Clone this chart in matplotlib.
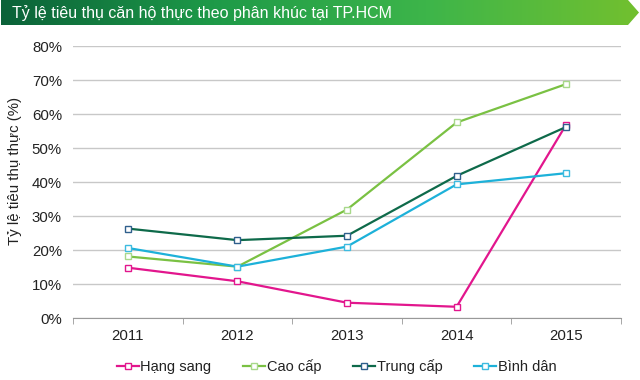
import numpy as np
import matplotlib
matplotlib.use("Agg")
import matplotlib.pyplot as plt
from matplotlib.patches import Polygon
from matplotlib.colors import LinearSegmentedColormap
from matplotlib.ticker import PercentFormatter

plt.rcParams['font.family'] = ['Liberation Sans', 'DejaVu Sans']

title = "Tỷ lệ tiêu thụ căn hộ thực theo phân khúc tại TP.HCM"
ylabel = "Tỷ lệ tiêu thụ thực (%)"
years = ["2011", "2012", "2013", "2014", "2015"]
hang_sang = [14.8, 10.8, 4.5, 3.3, 56.9]
cao_cap = [18.1, 15.1, 31.9, 57.5, 68.8]
trung_cap = [26.3, 22.9, 24.2, 41.8, 56.2]
binh_dan = [20.6, 15.1, 21.0, 39.3, 42.6]

series = [
    ("Hạng sang", hang_sang, "#E2168D", "#E2168D"),
    ("Cao cấp", cao_cap, "#7AC143", "#A8D88A"),
    ("Trung cấp", trung_cap, "#0E6A4A", "#2F5F8C"),
    ("Bình dân", binh_dan, "#1DB1D9", "#3DBBE0"),
]

fig = plt.figure(figsize=(6.4, 3.8), dpi=100)

# Banner
bax = fig.add_axes([0, 0, 1, 1], zorder=0)
bax.set_xlim(0, 640)
bax.set_ylim(380, 0)
bax.axis("off")
cmap = LinearSegmentedColormap.from_list("g", ["#0B6239", "#1E9A48", "#3DB54A", "#72C02F"])
grad = np.linspace(0, 1, 256).reshape(1, -1)
im = bax.imshow(grad, extent=[1, 639, 25, 0], cmap=cmap, aspect="auto")
poly = Polygon([[1, 0], [628, 0], [639, 12.5], [628, 25], [1, 25]], closed=True,
               facecolor="none", edgecolor="none", transform=bax.transData)
bax.add_patch(poly)
im.set_clip_path(poly)
bax.text(12, 13, title, color="white", fontsize=11.5, va="center", ha="left")

ax = fig.add_axes([73/640, 1-318/380, (621-73)/640, (318-46)/380], zorder=1)
ax.patch.set_alpha(0)
x = np.arange(len(years))
for name, vals, c, mc in series:
    ax.plot(x, vals, color=c, lw=1.6, marker="s", markersize=4.5,
            markerfacecolor="white", markeredgecolor=mc, markeredgewidth=1.0,
            label=name)

ax.set_xlim(-0.5, len(years)-0.5)
ax.set_ylim(0, 80)
ax.set_yticks(np.arange(0, 81, 10))
ax.yaxis.set_major_formatter(PercentFormatter(decimals=0))
ax.set_xticks(x)
ax.set_xticklabels(years)
ax.set_xticks(np.arange(-0.5, len(years), 1), minor=True)
ax.tick_params(axis="x", which="major", length=0, pad=8, labelsize=10.8, colors="#222222")
ax.tick_params(axis="x", which="minor", length=4, color="#999999", direction="out")
ax.tick_params(axis="y", length=0, pad=8, labelsize=10.8, colors="#222222")
ax.grid(axis="y", color="#C8C8C8", lw=1.0)
ax.set_axisbelow(True)
for s in ["top", "right", "left"]:
    ax.spines[s].set_visible(False)
ax.spines["bottom"].set_color("#999999")
fig.text(15/640, 1-171/380, ylabel, rotation=90, fontsize=10.8, color="#222222",
         ha="center", va="center")

leg = fig.legend(loc="center", bbox_to_anchor=(0.526, 1-367/380), ncol=4, frameon=False,
                 fontsize=10.5, handlelength=1.5, handletextpad=0.1, columnspacing=2.2)
for t in leg.get_texts():
    t.set_color("#222222")

fig.savefig("out.png", dpi=100)
